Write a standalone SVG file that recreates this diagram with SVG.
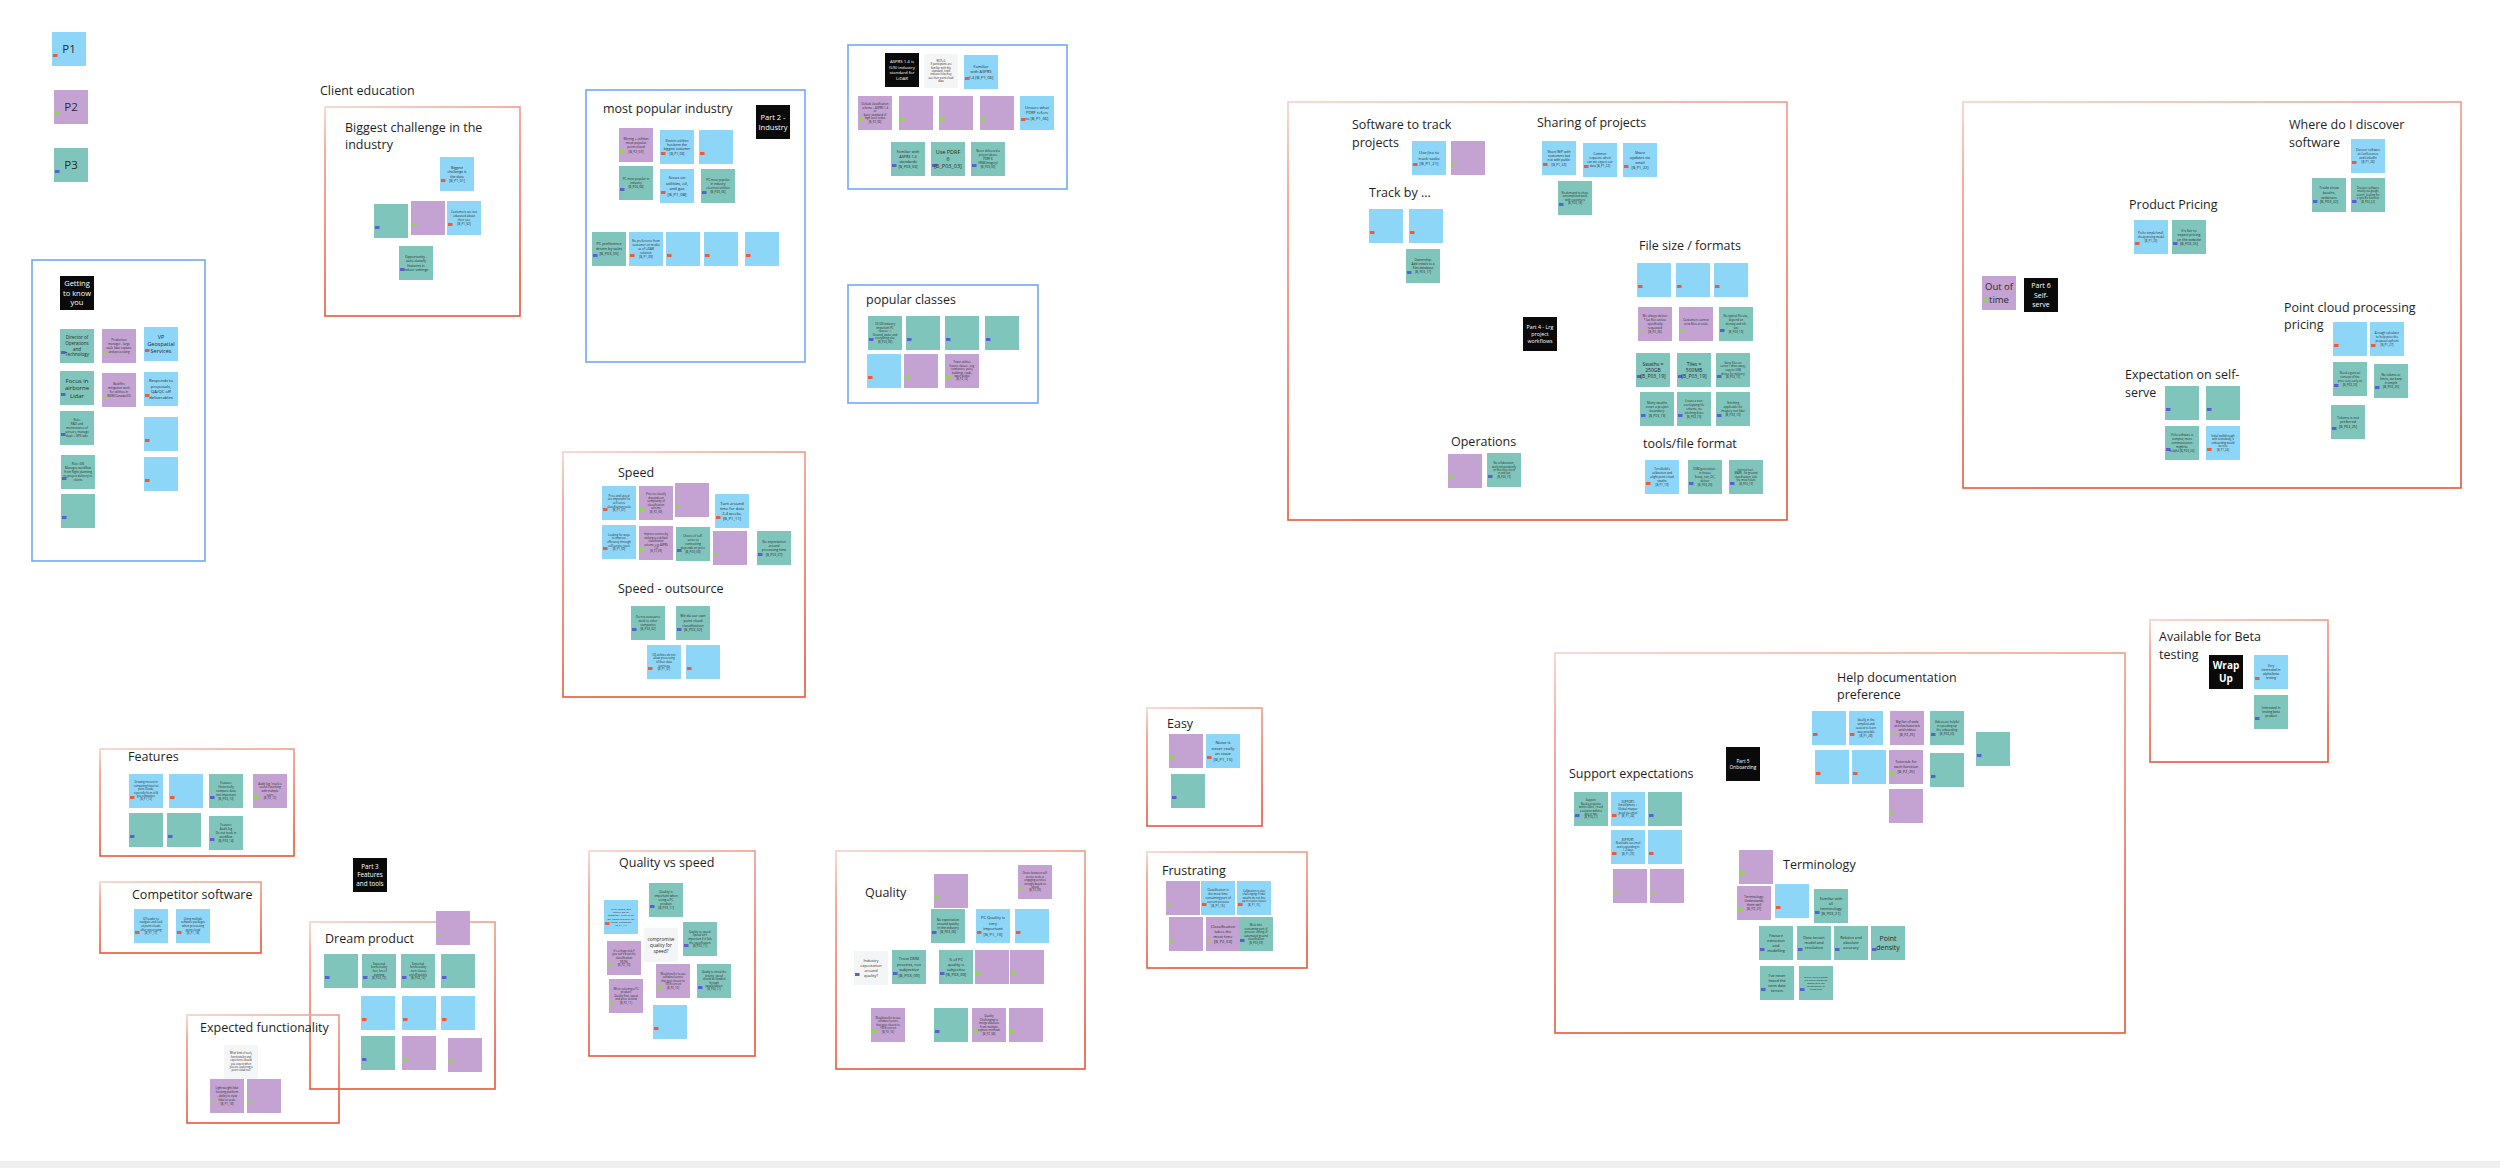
<svg xmlns="http://www.w3.org/2000/svg" xmlns:xlink="http://www.w3.org/1999/xlink" width="2500" height="1168" viewBox="0 0 2500 1168">
<style>
.h{font-family:"Open Sans","Noto Sans","Liberation Sans",sans-serif;font-size:12.5px;fill:#1e1e1e}
.s{font-family:"Open Sans","Noto Sans","Liberation Sans",sans-serif;fill:#2a2a2a;text-anchor:middle}
.wt{font-family:"Open Sans","Noto Sans","Liberation Sans",sans-serif;fill:#ffffff;text-anchor:middle}
.fb{fill:none;stroke:#72a9f2;stroke-width:1.6}
.fr{fill:none;stroke:url(#rg);stroke-width:1.6}
</style>
<defs>
<linearGradient id="rg" x1="0" y1="0" x2="0.2" y2="1">
<stop offset="0" stop-color="#f6d0c7"/>
<stop offset="0.2" stop-color="#ef9a86"/>
<stop offset="1" stop-color="#e8553a"/>
</linearGradient>
<g id="sb"><rect width="34" height="34" fill="#8dd6f7"/><rect x="1" y="22" width="4.5" height="3" fill="#ef5a3c"/></g>
<g id="sp"><rect width="34" height="34" fill="#c4a3d3"/><rect x="1" y="22" width="4.5" height="3" fill="#93d35a"/></g>
<g id="st"><rect width="34" height="34" fill="#80c5bb"/><rect x="1" y="22" width="4.5" height="3" fill="#5a5fd3"/></g>
<g id="sw"><rect width="34" height="34" fill="#f4f5f7"/></g>
<g id="swt"><rect width="34" height="34" fill="#f4f5f7"/><rect x="1" y="22" width="4.5" height="3" fill="#5a5fd3"/></g>
<g id="sk"><rect width="34" height="34" fill="#0a0a0a"/></g>
</defs>
<rect width="2500" height="1168" fill="#ffffff"/>
<rect x="0" y="1161" width="2500" height="7" fill="#efefef"/>

<g id="frames">
<rect class="fb" x="32" y="260" width="173" height="301"/>
<rect class="fr" x="325" y="107" width="195" height="209"/>
<rect class="fb" x="586" y="90" width="219" height="272"/>
<rect class="fb" x="848" y="45" width="219" height="144"/>
<rect class="fb" x="848" y="285" width="190" height="118"/>
<rect class="fr" x="1288" y="102" width="499" height="418"/>
<rect class="fr" x="1963" y="102" width="498" height="386"/>
<rect class="fr" x="563" y="452" width="242" height="245"/>
<rect class="fr" x="100" y="749" width="194" height="107"/>
<rect class="fr" x="100" y="882" width="161" height="71"/>
<rect class="fr" x="310" y="922" width="185" height="167"/>
<rect class="fr" x="187" y="1015" width="152" height="108"/>
<rect class="fr" x="589" y="851" width="166" height="205"/>
<rect class="fr" x="836" y="851" width="249" height="218"/>
<rect class="fr" x="1147" y="708" width="115" height="118"/>
<rect class="fr" x="1147" y="852" width="160" height="116"/>
<rect class="fr" x="1555" y="653" width="570" height="380"/>
<rect class="fr" x="2150" y="620" width="178" height="142"/>
</g>

<g id="headings">
<text class="h" x="320" y="95">Client education</text>
<text class="h" x="345" y="132">Biggest challenge in the</text>
<text class="h" x="345" y="149">industry</text>
<text class="h" x="603" y="113">most popular industry</text>
<text class="h" x="866" y="304">popular classes</text>
<text class="h" x="1352" y="129">Software to track</text>
<text class="h" x="1352" y="147">projects</text>
<text class="h" x="1369" y="197">Track by ...</text>
<text class="h" x="1537" y="127">Sharing of projects</text>
<text class="h" x="1639" y="250">File size / formats</text>
<text class="h" x="1451" y="446">Operations</text>
<text class="h" x="1643" y="448">tools/file format</text>
<text class="h" x="2289" y="129">Where do I discover</text>
<text class="h" x="2289" y="147">software</text>
<text class="h" x="2129" y="209">Product Pricing</text>
<text class="h" x="2284" y="312">Point cloud processing</text>
<text class="h" x="2284" y="329">pricing</text>
<text class="h" x="2125" y="379">Expectation on self-</text>
<text class="h" x="2125" y="397">serve</text>
<text class="h" x="618" y="477">Speed</text>
<text class="h" x="618" y="593">Speed - outsource</text>
<text class="h" x="128" y="761">Features</text>
<text class="h" x="132" y="899">Competitor software</text>
<text class="h" x="325" y="943">Dream product</text>
<text class="h" x="200" y="1032">Expected functionality</text>
<text class="h" x="619" y="867">Quality vs speed</text>
<text class="h" x="865" y="897">Quality</text>
<text class="h" x="1167" y="728">Easy</text>
<text class="h" x="1162" y="875">Frustrating</text>
<text class="h" x="1837" y="682">Help documentation</text>
<text class="h" x="1837" y="699">preference</text>
<text class="h" x="1569" y="778">Support expectations</text>
<text class="h" x="1783" y="869">Terminology</text>
<text class="h" x="2159" y="641">Available for Beta</text>
<text class="h" x="2159" y="659">testing</text>
</g>

<g id="legend">
<g id="n-p1"><use href="#sb" x="52" y="32"/><text class="s" x="69" y="53" font-size="11.5">P1</text></g>
<g id="n-p2"><use href="#sp" x="54" y="90"/><text class="s" x="71" y="111" font-size="11.5">P2</text></g>
<g id="n-p3"><use href="#st" x="54" y="148"/><text class="s" x="71" y="169" font-size="11.5">P3</text></g>
</g>

<g id="getting-to-know-you">
<g id="n-gk-label"><use href="#sk" x="60" y="276"/><text class="wt" x="77" y="286" font-size="7.5"><tspan x="77">Getting</tspan><tspan x="77" dy="9.5">to know</tspan><tspan x="77" dy="9.5">you</tspan></text></g>
<g id="n-gk1"><use href="#st" x="60" y="329"/><text class="s" x="77" y="338.9" font-size="4.5"><tspan x="77">Director of</tspan><tspan x="77" dy="5.8">Operations</tspan><tspan x="77" dy="5.8">and</tspan><tspan x="77" dy="5.8">Technology</tspan></text></g>
<g id="n-gk2"><use href="#st" x="60" y="371"/><text class="s" x="77" y="382.5" font-size="6"><tspan x="77">Focus in</tspan><tspan x="77" dy="7.6">airborne</tspan><tspan x="77" dy="7.6">Lidar</tspan></text></g>
<g id="n-gk3"><use href="#st" x="60" y="411"/><text class="s" x="77" y="421.2" font-size="3"><tspan x="77">Role:</tspan><tspan x="77" dy="3.9">R&amp;D and</tspan><tspan x="77" dy="3.9">maintenance of</tspan><tspan x="77" dy="3.9">sensors, manage</tspan><tspan x="77" dy="3.9">dept + GPS side</tspan></text></g>
<g id="n-gk4"><use href="#st" x="61" y="455"/><text class="s" x="78" y="465.2" font-size="3"><tspan x="78">Role: GIS</tspan><tspan x="78" dy="3.9">Manages workflow</tspan><tspan x="78" dy="3.9">from flight planning</tspan><tspan x="78" dy="3.9">to project delivery to</tspan><tspan x="78" dy="3.9">clients</tspan></text></g>
<g id="n-gk5"><use href="#st" x="61" y="494"/></g>
<g id="n-gk6"><use href="#sp" x="102" y="329"/><text class="s" x="119" y="341.2" font-size="3"><tspan x="119">Production</tspan><tspan x="119" dy="3.9">manager - large</tspan><tspan x="119" dy="3.9">scale lidar capture</tspan><tspan x="119" dy="3.9">and processing</tspan></text></g>
<g id="n-gk7"><use href="#sp" x="102" y="373"/><text class="s" x="119" y="385.2" font-size="3"><tspan x="119">Bushfire</tspan><tspan x="119" dy="3.9">mitigation work</tspan><tspan x="119" dy="3.9">for utilities in</tspan><tspan x="119" dy="3.9">NSW/Canada/US</tspan></text></g>
<g id="n-gk8"><use href="#sb" x="144" y="327"/><text class="s" x="161" y="338.9" font-size="5.5"><tspan x="161">VP</tspan><tspan x="161" dy="7">Geospatial</tspan><tspan x="161" dy="7">Services</tspan></text></g>
<g id="n-gk9"><use href="#sb" x="144" y="372"/><text class="s" x="161" y="382.4" font-size="4.2"><tspan x="161">Responds to</tspan><tspan x="161" dy="5.4">proposals,</tspan><tspan x="161" dy="5.4">QA/QC off</tspan><tspan x="161" dy="5.4">deliverables</tspan></text></g>
<g id="n-gk10"><use href="#sb" x="144" y="417"/></g>
<g id="n-gk11"><use href="#sb" x="144" y="457"/></g>
</g>

<g id="biggest-challenge">
<g id="n-bc1"><use href="#sb" x="440" y="157"/><text class="s" x="457" y="168.5" font-size="3.5"><tspan x="457">Biggest</tspan><tspan x="457" dy="4.5">challenge is</tspan><tspan x="457" dy="4.5">the data</tspan><tspan x="457" dy="4.5">[B_P1_01]</tspan></text></g>
<g id="n-bc2"><use href="#st" x="374" y="204"/></g>
<g id="n-bc3"><use href="#sp" x="411" y="201"/></g>
<g id="n-bc4"><use href="#sb" x="447" y="201"/><text class="s" x="464" y="213.2" font-size="3"><tspan x="464">Customers are not</tspan><tspan x="464" dy="3.9">educated about</tspan><tspan x="464" dy="3.9">their use</tspan><tspan x="464" dy="3.9">[B_P1_02]</tspan></text></g>
<g id="n-bc5"><use href="#st" x="399" y="246"/><text class="s" x="416" y="257.5" font-size="3.5"><tspan x="416">Opportunity -</tspan><tspan x="416" dy="4.5">auto-classify</tspan><tspan x="416" dy="4.5">features in</tspan><tspan x="416" dy="4.5">indoor settings</tspan></text></g>
</g>

<g id="popular-industry">
<g id="n-part2"><use href="#sk" x="756" y="105"/><text class="wt" x="773" y="119.6" font-size="7.5"><tspan x="773">Part 2 -</tspan><tspan x="773" dy="10">Industry</tspan></text></g>
<g id="n-pi1"><use href="#sp" x="619" y="128"/><text class="s" x="636" y="139.7" font-size="3.3"><tspan x="636">Mining + utilities</tspan><tspan x="636" dy="4.3">most popular</tspan><tspan x="636" dy="4.3">point cloud</tspan><tspan x="636" dy="4.3">[B_P2_07]</tspan></text></g>
<g id="n-pi2"><use href="#sb" x="660" y="130"/><text class="s" x="677" y="141.7" font-size="3.3"><tspan x="677">Electric utilities</tspan><tspan x="677" dy="4.3">has been the</tspan><tspan x="677" dy="4.3">biggest customer</tspan><tspan x="677" dy="4.3">[B_P1_08]</tspan></text></g>
<g id="n-pi3"><use href="#sb" x="699" y="130"/></g>
<g id="n-pi4"><use href="#st" x="619" y="166"/><text class="s" x="636" y="180.1" font-size="3"><tspan x="636">PC most popular in</tspan><tspan x="636" dy="3.9">industry</tspan><tspan x="636" dy="3.9">[B_P03_06]</tspan></text></g>
<g id="n-pi5"><use href="#sb" x="660" y="169"/><text class="s" x="677" y="179.4" font-size="4.2"><tspan x="677">focus on</tspan><tspan x="677" dy="5.4">utilities, oil,</tspan><tspan x="677" dy="5.4">and gas</tspan><tspan x="677" dy="5.4">[B_P1_08]</tspan></text></g>
<g id="n-pi6"><use href="#st" x="701" y="169"/><text class="s" x="718" y="181.2" font-size="3"><tspan x="718">PC most popular</tspan><tspan x="718" dy="3.9">in industry</tspan><tspan x="718" dy="3.9">electrical utilities</tspan><tspan x="718" dy="3.9">[B_P03_06]</tspan></text></g>
<g id="n-pi7"><use href="#st" x="592" y="232"/><text class="s" x="609" y="245.4" font-size="3.8"><tspan x="609">PC preference</tspan><tspan x="609" dy="4.9">driven by sales</tspan><tspan x="609" dy="4.9">[B_P03_05]</tspan></text></g>
<g id="n-pi8"><use href="#sb" x="629" y="232"/><text class="s" x="646" y="242.2" font-size="3"><tspan x="646">No preference from</tspan><tspan x="646" dy="3.9">customer on media</tspan><tspan x="646" dy="3.9">as of LiDAR</tspan><tspan x="646" dy="3.9">solution</tspan><tspan x="646" dy="3.9">[B_P1_09]</tspan></text></g>
<g id="n-pi9"><use href="#sb" x="666" y="232"/></g>
<g id="n-pi10"><use href="#sb" x="704" y="232"/></g>
<g id="n-pi11"><use href="#sb" x="745" y="232"/></g>
</g>

<g id="asprs">
<g id="n-asprs-label"><use href="#sk" x="885" y="53"/><text class="wt" x="902" y="62.8" font-size="4.3"><tspan x="902">ASPRS 1.4 is</tspan><tspan x="902" dy="5.8">(US) industry</tspan><tspan x="902" dy="5.8">standard for</tspan><tspan x="902" dy="5.8">LiDAR</tspan></text></g>
<g id="n-as1"><use href="#sw" x="924" y="54"/><text class="s" x="941" y="61.7" font-size="2.6"><tspan x="941">WCP+G</tspan><tspan x="941" dy="3.4">If participants are</tspan><tspan x="941" dy="3.4">familiar with this</tspan><tspan x="941" dy="3.4">standard, it will</tspan><tspan x="941" dy="3.4">indicate how they</tspan><tspan x="941" dy="3.4">use their point cloud</tspan><tspan x="941" dy="3.4">data</tspan></text></g>
<g id="n-as2"><use href="#sb" x="964" y="55"/><text class="s" x="981" y="68.2" font-size="4"><tspan x="981">Familiar</tspan><tspan x="981" dy="5.2">with ASPRS</tspan><tspan x="981" dy="5.2">1.4 [B_P1_06]</tspan></text></g>
<g id="n-as3"><use href="#sp" x="858" y="96"/><text class="s" x="875" y="105" font-size="2.8"><tspan x="875">Default classification</tspan><tspan x="875" dy="3.6">scheme = ASPRS 1.4</tspan><tspan x="875" dy="3.6">or</tspan><tspan x="875" dy="3.6">basic standard of</tspan><tspan x="875" dy="3.6">high level codes</tspan><tspan x="875" dy="3.6">[B_P2_06]</tspan></text></g>
<g id="n-as4"><use href="#sp" x="899" y="96"/></g>
<g id="n-as5"><use href="#sp" x="939" y="96"/></g>
<g id="n-as6"><use href="#sp" x="980" y="96"/></g>
<g id="n-as7"><use href="#sb" x="1020" y="96"/><text class="s" x="1037" y="109.2" font-size="4"><tspan x="1037">Unsure what</tspan><tspan x="1037" dy="5.2">PDRF refers</tspan><tspan x="1037" dy="5.2">to [B_P1_06]</tspan></text></g>
<g id="n-as8"><use href="#st" x="891" y="142"/><text class="s" x="908" y="153" font-size="3.8"><tspan x="908">Familiar with</tspan><tspan x="908" dy="4.9">ASPRS 1.4</tspan><tspan x="908" dy="4.9">standards</tspan><tspan x="908" dy="4.9">[B_P03_03]</tspan></text></g>
<g id="n-as9"><use href="#st" x="931" y="142"/><text class="s" x="948" y="153.9" font-size="5.5"><tspan x="948">Use PDRF</tspan><tspan x="948" dy="7">6</tspan><tspan x="948" dy="7">[B_P03_03]</tspan></text></g>
<g id="n-as10"><use href="#st" x="971" y="142"/><text class="s" x="988" y="152.4" font-size="2.9"><tspan x="988">Never delivered a</tspan><tspan x="988" dy="3.8">project above</tspan><tspan x="988" dy="3.8">PDRF 6</tspan><tspan x="988" dy="3.8">(RGB/imagery)</tspan><tspan x="988" dy="3.8">[B_P03_03]</tspan></text></g>
</g>

<g id="popular-classes">
<g id="n-pc1"><use href="#st" x="868" y="316"/><text class="s" x="885" y="325" font-size="2.8"><tspan x="885">US GIS industry</tspan><tspan x="885" dy="3.6">important PC</tspan><tspan x="885" dy="3.6">classes ++</tspan><tspan x="885" dy="3.6">Ground, water and</tspan><tspan x="885" dy="3.6">everything else</tspan><tspan x="885" dy="3.6">[B_P03_09]</tspan></text></g>
<g id="n-pc2"><use href="#st" x="906" y="316"/></g>
<g id="n-pc3"><use href="#st" x="945" y="316"/></g>
<g id="n-pc4"><use href="#st" x="985" y="316"/></g>
<g id="n-pc5"><use href="#sb" x="867" y="354"/></g>
<g id="n-pc6"><use href="#sp" x="904" y="354"/></g>
<g id="n-pc7"><use href="#sp" x="945" y="354"/><text class="s" x="962" y="363.4" font-size="2.6"><tspan x="962">Power utilities</tspan><tspan x="962" dy="3.4">feature classes - veg,</tspan><tspan x="962" dy="3.4">conductors, poles,</tspan><tspan x="962" dy="3.4">buildings, roads,</tspan><tspan x="962" dy="3.4">water bodies</tspan><tspan x="962" dy="3.4">[B_P2_10]</tspan></text></g>
</g>

<g id="part4">
<g id="n-part4"><use href="#sk" x="1523" y="317"/><text class="wt" x="1540" y="328.9" font-size="5.3"><tspan x="1540">Part 4 - Lrg</tspan><tspan x="1540" dy="7">project</tspan><tspan x="1540" dy="7">workflows</tspan></text></g>
<g id="n-p4a"><use href="#sb" x="1412" y="141"/><text class="s" x="1429" y="154.1" font-size="4.2"><tspan x="1429">Use Jira to</tspan><tspan x="1429" dy="5.4">track tasks</tspan><tspan x="1429" dy="5.4">[B_P1_21]</tspan></text></g>
<g id="n-p4b"><use href="#sp" x="1451" y="141"/></g>
<g id="n-p4c"><use href="#sb" x="1369" y="209"/></g>
<g id="n-p4d"><use href="#sb" x="1409" y="209"/></g>
<g id="n-p4e"><use href="#st" x="1406" y="249"/><text class="s" x="1423" y="260.8" font-size="3.2"><tspan x="1423">Ownership:</tspan><tspan x="1423" dy="4.2">Add initials to a</tspan><tspan x="1423" dy="4.2">files database</tspan><tspan x="1423" dy="4.2">[B_P03_17]</tspan></text></g>
<g id="n-p4f"><use href="#sb" x="1542" y="141"/><text class="s" x="1559" y="152.7" font-size="3.3"><tspan x="1559">Share WiP with</tspan><tspan x="1559" dy="4.3">customers but</tspan><tspan x="1559" dy="4.3">not with public</tspan><tspan x="1559" dy="4.3">[B_P1_22]</tspan></text></g>
<g id="n-p4g"><use href="#sb" x="1583" y="143"/><text class="s" x="1600" y="155.2" font-size="3"><tspan x="1600">Common</tspan><tspan x="1600" dy="3.9">requests: when</tspan><tspan x="1600" dy="3.9">can we expect our</tspan><tspan x="1600" dy="3.9">data [B_P1_22]</tspan></text></g>
<g id="n-p4h"><use href="#sb" x="1623" y="143"/><text class="s" x="1640" y="153.9" font-size="3.8"><tspan x="1640">Share</tspan><tspan x="1640" dy="4.9">updates via</tspan><tspan x="1640" dy="4.9">email</tspan><tspan x="1640" dy="4.9">[B_P1_22]</tspan></text></g>
<g id="n-p4i"><use href="#st" x="1558" y="181"/><text class="s" x="1575" y="193.6" font-size="2.8"><tspan x="1575">No demand to share</tspan><tspan x="1575" dy="3.6">uncompleted work</tspan><tspan x="1575" dy="3.6">with customers</tspan><tspan x="1575" dy="3.6">[B_P03_18]</tspan></text></g>
<g id="n-p4j"><use href="#sb" x="1637" y="263"/></g>
<g id="n-p4k"><use href="#sb" x="1676" y="263"/></g>
<g id="n-p4l"><use href="#sb" x="1714" y="263"/></g>
<g id="n-p4m"><use href="#sp" x="1638" y="307"/><text class="s" x="1655" y="317.2" font-size="3"><tspan x="1655">We always deliver</tspan><tspan x="1655" dy="3.9">*.las files unless</tspan><tspan x="1655" dy="3.9">specifically</tspan><tspan x="1655" dy="3.9">requested</tspan><tspan x="1655" dy="3.9">[B_P2_26]</tspan></text></g>
<g id="n-p4n"><use href="#sp" x="1679" y="307"/><text class="s" x="1696" y="321" font-size="3"><tspan x="1696">Customers cannot</tspan><tspan x="1696" dy="3.9">view files at scale</tspan></text></g>
<g id="n-p4o"><use href="#st" x="1719" y="307"/><text class="s" x="1736" y="317.4" font-size="2.9"><tspan x="1736">No typical file size,</tspan><tspan x="1736" dy="3.8">depend on</tspan><tspan x="1736" dy="3.8">density and tile</tspan><tspan x="1736" dy="3.8">size</tspan><tspan x="1736" dy="3.8">[B_P03_19]</tspan></text></g>
<g id="n-p4p"><use href="#st" x="1636" y="353"/><text class="s" x="1653" y="365.5" font-size="5"><tspan x="1653">Swaths =</tspan><tspan x="1653" dy="6.3">250GB</tspan><tspan x="1653" dy="6.3">[B_P03_19]</tspan></text></g>
<g id="n-p4q"><use href="#st" x="1677" y="353"/><text class="s" x="1694" y="365.5" font-size="5"><tspan x="1694">Tiles =</tspan><tspan x="1694" dy="6.3">500MB</tspan><tspan x="1694" dy="6.3">[B_P03_19]</tspan></text></g>
<g id="n-p4r"><use href="#st" x="1716" y="353"/><text class="s" x="1733" y="363.8" font-size="2.8"><tspan x="1733">Store files on</tspan><tspan x="1733" dy="3.6">server / drive away,</tspan><tspan x="1733" dy="3.6">copy to USB</tspan><tspan x="1733" dy="3.6">drives for delivery</tspan><tspan x="1733" dy="3.6">[B_P03_19]</tspan></text></g>
<g id="n-p4s"><use href="#st" x="1640" y="392"/><text class="s" x="1657" y="403.7" font-size="3.3"><tspan x="1657">Many swaths</tspan><tspan x="1657" dy="4.3">cover a project</tspan><tspan x="1657" dy="4.3">boundary</tspan><tspan x="1657" dy="4.3">[B_P03_19]</tspan></text></g>
<g id="n-p4t"><use href="#st" x="1677" y="392"/><text class="s" x="1694" y="402.4" font-size="2.9"><tspan x="1694">Create a non-</tspan><tspan x="1694" dy="3.8">overlapping tile</tspan><tspan x="1694" dy="3.8">scheme, no</tspan><tspan x="1694" dy="3.8">stitching done</tspan><tspan x="1694" dy="3.8">[B_P03_19]</tspan></text></g>
<g id="n-p4u"><use href="#st" x="1716" y="392"/><text class="s" x="1733" y="404.2" font-size="3"><tspan x="1733">Stitching</tspan><tspan x="1733" dy="3.9">applicable for</tspan><tspan x="1733" dy="3.9">imagery not lidar</tspan><tspan x="1733" dy="3.9">[B_P03_19]</tspan></text></g>
<g id="n-p4v"><use href="#sp" x="1448" y="454"/></g>
<g id="n-p4w"><use href="#st" x="1487" y="453"/><text class="s" x="1504" y="464.1" font-size="2.6"><tspan x="1504">No collaboration,</tspan><tspan x="1504" dy="3.4">work independently</tspan><tspan x="1504" dy="3.4">on files they check</tspan><tspan x="1504" dy="3.4">in and out</tspan><tspan x="1504" dy="3.4">[B_P03_19]</tspan></text></g>
<g id="n-p4x"><use href="#sb" x="1645" y="460"/><text class="s" x="1662" y="470.4" font-size="2.9"><tspan x="1662">TerraSolid's</tspan><tspan x="1662" dy="3.8">calibration and</tspan><tspan x="1662" dy="3.8">alight point cloud</tspan><tspan x="1662" dy="3.8">swaths</tspan><tspan x="1662" dy="3.8">[B_P1_19]</tspan></text></g>
<g id="n-p4y"><use href="#st" x="1688" y="460"/><text class="s" x="1705" y="470.4" font-size="2.9"><tspan x="1705">DEM generation -</tspan><tspan x="1705" dy="3.8">in-house</tspan><tspan x="1705" dy="3.8">Setup, run, QC,</tspan><tspan x="1705" dy="3.8">deliver</tspan><tspan x="1705" dy="3.8">[B_P03_20]</tspan></text></g>
<g id="n-p4z"><use href="#st" x="1729" y="460"/><text class="s" x="1746" y="470.9" font-size="2.7"><tspan x="1746">Internal tool -</tspan><tspan x="1746" dy="3.5">MARS - for ground</tspan><tspan x="1746" dy="3.5">classification, take</tspan><tspan x="1746" dy="3.5">the most hours</tspan><tspan x="1746" dy="3.5">[B_P03_19]</tspan></text></g>
</g>

<g id="part6">
<g id="n-outoftime"><use href="#sp" x="1982" y="276"/><text class="s" x="1999" y="290" font-size="9.5"><tspan x="1999">Out of</tspan><tspan x="1999" dy="12.5">time</tspan></text></g>
<g id="n-part6"><use href="#sk" x="2024" y="278"/><text class="wt" x="2041" y="288" font-size="7"><tspan x="2041">Part 6</tspan><tspan x="2041" dy="9.5">Self-</tspan><tspan x="2041" dy="9.5">serve</tspan></text></g>
<g id="n-p6a"><use href="#sb" x="2351" y="139"/><text class="s" x="2368" y="151.3" font-size="2.9"><tspan x="2368">Discover software</tspan><tspan x="2368" dy="3.8">at Conferences</tspan><tspan x="2368" dy="3.8">and LinkedIn</tspan><tspan x="2368" dy="3.8">[B_P1_26]</tspan></text></g>
<g id="n-p6b"><use href="#st" x="2312" y="178"/><text class="s" x="2329" y="189.3" font-size="3.6"><tspan x="2329">Trade show</tspan><tspan x="2329" dy="4.7">booths,</tspan><tspan x="2329" dy="4.7">webinars</tspan><tspan x="2329" dy="4.7">[B_P03_22]</tspan></text></g>
<g id="n-p6c"><use href="#st" x="2351" y="178"/><text class="s" x="2368" y="188.9" font-size="2.7"><tspan x="2368">Discover software</tspan><tspan x="2368" dy="3.5">mostly via google</tspan><tspan x="2368" dy="3.5">search, looking for</tspan><tspan x="2368" dy="3.5">a specific function</tspan><tspan x="2368" dy="3.5">[B_P03_22]</tspan></text></g>
<g id="n-p6d"><use href="#sb" x="2134" y="220"/><text class="s" x="2151" y="234.4" font-size="2.8"><tspan x="2151">Prefer simple/small,</tspan><tspan x="2151" dy="3.6">cheap pricing model</tspan><tspan x="2151" dy="3.6">[B_P1_25]</tspan></text></g>
<g id="n-p6e"><use href="#st" x="2172" y="220"/><text class="s" x="2189" y="231.5" font-size="3.5"><tspan x="2189">It's fair to</tspan><tspan x="2189" dy="4.5">expect pricing</tspan><tspan x="2189" dy="4.5">on the website</tspan><tspan x="2189" dy="4.5">[B_P03_25]</tspan></text></g>
<g id="n-p6f"><use href="#sb" x="2333" y="322"/></g>
<g id="n-p6g"><use href="#sb" x="2370" y="322"/><text class="s" x="2387" y="334.3" font-size="2.9"><tspan x="2387">A rough calculator</tspan><tspan x="2387" dy="3.8">to help price the</tspan><tspan x="2387" dy="3.8">proposal upfront</tspan><tspan x="2387" dy="3.8">[B_P1_27]</tspan></text></g>
<g id="n-p6h"><use href="#st" x="2333" y="362"/><text class="s" x="2350" y="374.3" font-size="2.9"><tspan x="2350">Need a general</tspan><tspan x="2350" dy="3.8">concept of the</tspan><tspan x="2350" dy="3.8">price very early on</tspan><tspan x="2350" dy="3.8">[B_P03_25]</tspan></text></g>
<g id="n-p6i"><use href="#st" x="2374" y="364"/><text class="s" x="2391" y="375.8" font-size="3.2"><tspan x="2391">No tokens or</tspan><tspan x="2391" dy="4.2">limits, we keep</tspan><tspan x="2391" dy="4.2">it simple</tspan><tspan x="2391" dy="4.2">[B_P03_25]</tspan></text></g>
<g id="n-p6j"><use href="#st" x="2331" y="405"/><text class="s" x="2348" y="418.6" font-size="3.6"><tspan x="2348">Tokens is not</tspan><tspan x="2348" dy="4.7">preferred</tspan><tspan x="2348" dy="4.7">[B_P03_25]</tspan></text></g>
<g id="n-p6k"><use href="#st" x="2165" y="386"/></g>
<g id="n-p6l"><use href="#st" x="2206" y="386"/></g>
<g id="n-p6m"><use href="#st" x="2165" y="426"/><text class="s" x="2182" y="436.4" font-size="2.9"><tspan x="2182">If the software is</tspan><tspan x="2182" dy="3.8">complex, more</tspan><tspan x="2182" dy="3.8">communication</tspan><tspan x="2182" dy="3.8">might be</tspan><tspan x="2182" dy="3.8">helpful [B_P03_24]</tspan></text></g>
<g id="n-p6n"><use href="#sb" x="2206" y="426"/><text class="s" x="2223" y="436.9" font-size="2.7"><tspan x="2223">Initial walkthrough</tspan><tspan x="2223" dy="3.5">with somebody, a</tspan><tspan x="2223" dy="3.5">onboarding would</tspan><tspan x="2223" dy="3.5">be nice</tspan><tspan x="2223" dy="3.5">[B_P1_24]</tspan></text></g>
</g>

<g id="speed">
<g id="n-sp1"><use href="#sb" x="602" y="486"/><text class="s" x="619" y="496.8" font-size="2.8"><tspan x="619">Price and speed</tspan><tspan x="619" dy="3.6">are important for</tspan><tspan x="619" dy="3.6">self-serve</tspan><tspan x="619" dy="3.6">classification tools</tspan><tspan x="619" dy="3.6">[B_P1_07]</tspan></text></g>
<g id="n-sp2"><use href="#sp" x="639" y="486"/><text class="s" x="656" y="495" font-size="2.8"><tspan x="656">Price to classify</tspan><tspan x="656" dy="3.6">depends on</tspan><tspan x="656" dy="3.6">complexity of</tspan><tspan x="656" dy="3.6">classification</tspan><tspan x="656" dy="3.6">scheme</tspan><tspan x="656" dy="3.6">[B_P2_09]</tspan></text></g>
<g id="n-sp3"><use href="#sp" x="675" y="483"/></g>
<g id="n-sp4"><use href="#sb" x="715" y="494"/><text class="s" x="732" y="504.6" font-size="4"><tspan x="732">Turn around</tspan><tspan x="732" dy="5.2">time for data</tspan><tspan x="732" dy="5.2">2-4 weeks.</tspan><tspan x="732" dy="5.2">[B_P1_11]</tspan></text></g>
<g id="n-sp5"><use href="#sb" x="602" y="525"/><text class="s" x="619" y="535.8" font-size="2.8"><tspan x="619">Looking for ways</tspan><tspan x="619" dy="3.6">to improve</tspan><tspan x="619" dy="3.6">efficiency through</tspan><tspan x="619" dy="3.6">self-service tools</tspan><tspan x="619" dy="3.6">[B_P1_09]</tspan></text></g>
<g id="n-sp6"><use href="#sp" x="639" y="526"/><text class="s" x="656" y="535.4" font-size="2.6"><tspan x="656">Improve services by</tspan><tspan x="656" dy="3.4">sticking to a default</tspan><tspan x="656" dy="3.4">classification</tspan><tspan x="656" dy="3.4">scheme, e.g. ASPRS</tspan><tspan x="656" dy="3.4">1.4</tspan><tspan x="656" dy="3.4">[B_P2_09]</tspan></text></g>
<g id="n-sp7"><use href="#st" x="676" y="527"/><text class="s" x="693" y="537.2" font-size="3"><tspan x="693">Choice of self-</tspan><tspan x="693" dy="3.9">serve vs</tspan><tspan x="693" dy="3.9">contracting</tspan><tspan x="693" dy="3.9">depends on price</tspan><tspan x="693" dy="3.9">[B_P03_03]</tspan></text></g>
<g id="n-sp8"><use href="#sp" x="713" y="531"/></g>
<g id="n-sp9"><use href="#st" x="757" y="531"/><text class="s" x="774" y="542.7" font-size="3.3"><tspan x="774">No expectation</tspan><tspan x="774" dy="4.3">around</tspan><tspan x="774" dy="4.3">processing time</tspan><tspan x="774" dy="4.3">[B_P03_07]</tspan></text></g>
<g id="n-sp10"><use href="#st" x="631" y="606"/><text class="s" x="648" y="618.2" font-size="3"><tspan x="648">Do not outsource</tspan><tspan x="648" dy="3.9">work to other</tspan><tspan x="648" dy="3.9">companies</tspan><tspan x="648" dy="3.9">[B_P03_02]</tspan></text></g>
<g id="n-sp11"><use href="#st" x="676" y="606"/><text class="s" x="693" y="617.3" font-size="3.6"><tspan x="693">We do our own</tspan><tspan x="693" dy="4.7">point cloud</tspan><tspan x="693" dy="4.7">classification</tspan><tspan x="693" dy="4.7">[B_P03_02]</tspan></text></g>
<g id="n-sp12"><use href="#sb" x="647" y="645"/><text class="s" x="664" y="655.8" font-size="2.8"><tspan x="664">US utilities do not</tspan><tspan x="664" dy="3.6">allow processing</tspan><tspan x="664" dy="3.6">of their data</tspan><tspan x="664" dy="3.6">overseas</tspan><tspan x="664" dy="3.6">[B_P1_07]</tspan></text></g>
<g id="n-sp13"><use href="#sb" x="686" y="645"/></g>
</g>

<g id="features">
<g id="n-f1"><use href="#sb" x="129" y="774"/><text class="s" x="146" y="783.4" font-size="2.6"><tspan x="146">Growing interest in</tspan><tspan x="146" dy="3.4">comparing historical</tspan><tspan x="146" dy="3.4">point clouds,</tspan><tspan x="146" dy="3.4">especially from oil &amp;</tspan><tspan x="146" dy="3.4">gas companies</tspan><tspan x="146" dy="3.4">[B_P1_12]</tspan></text></g>
<g id="n-f2"><use href="#sb" x="169" y="774"/></g>
<g id="n-f3"><use href="#st" x="209" y="774"/><text class="s" x="226" y="784.2" font-size="3"><tspan x="226">Feature:</tspan><tspan x="226" dy="3.9">Historically</tspan><tspan x="226" dy="3.9">compare data</tspan><tspan x="226" dy="3.9">not important</tspan><tspan x="226" dy="3.9">[B_P03_13]</tspan></text></g>
<g id="n-f4"><use href="#sp" x="253" y="774"/><text class="s" x="270" y="784.8" font-size="2.8"><tspan x="270">Audit log / track is</tspan><tspan x="270" dy="3.6">useful if working</tspan><tspan x="270" dy="3.6">with multiple</tspan><tspan x="270" dy="3.6">users</tspan><tspan x="270" dy="3.6">[B_P2_12]</tspan></text></g>
<g id="n-f5"><use href="#st" x="129" y="813"/></g>
<g id="n-f6"><use href="#st" x="167" y="813"/></g>
<g id="n-f7"><use href="#st" x="209" y="816"/><text class="s" x="226" y="826.2" font-size="3"><tspan x="226">Feature:</tspan><tspan x="226" dy="3.9">Audit log</tspan><tspan x="226" dy="3.9">Do not track in</tspan><tspan x="226" dy="3.9">workflow</tspan><tspan x="226" dy="3.9">[B_P03_14]</tspan></text></g>
<g id="n-c1"><use href="#sb" x="134" y="909"/><text class="s" x="151" y="919.8" font-size="2.8"><tspan x="151">QTreader to</tspan><tspan x="151" dy="3.6">navigate and look</tspan><tspan x="151" dy="3.6">at point clouds</tspan><tspan x="151" dy="3.6">after processing</tspan><tspan x="151" dy="3.6">[B_P1_17]</tspan></text></g>
<g id="n-c2"><use href="#sb" x="176" y="909"/><text class="s" x="193" y="919.8" font-size="2.8"><tspan x="193">Using multiple</tspan><tspan x="193" dy="3.6">software packages</tspan><tspan x="193" dy="3.6">when processing</tspan><tspan x="193" dy="3.6">point cloud</tspan><tspan x="193" dy="3.6">[B_P1_18]</tspan></text></g>
<g id="n-part3"><use href="#sk" x="353" y="858"/><text class="wt" x="370" y="868.7" font-size="6.3"><tspan x="370">Part 3</tspan><tspan x="370" dy="8.5">Features</tspan><tspan x="370" dy="8.5">and tools</tspan></text></g>
</g>

<g id="dream-product">
<g id="n-d1"><use href="#sp" x="436" y="911"/></g>
<g id="n-d2"><use href="#st" x="324" y="954"/></g>
<g id="n-d3"><use href="#st" x="362" y="954"/><text class="s" x="379" y="964.8" font-size="2.8"><tspan x="379">Expected</tspan><tspan x="379" dy="3.6">functionality</tspan><tspan x="379" dy="3.6">- fast, lots of</tspan><tspan x="379" dy="3.6">panning</tspan><tspan x="379" dy="3.6">[B_P03_12]</tspan></text></g>
<g id="n-d4"><use href="#st" x="401" y="954"/><text class="s" x="418" y="964.8" font-size="2.8"><tspan x="418">Expected</tspan><tspan x="418" dy="3.6">functionality</tspan><tspan x="418" dy="3.6">- turn classes</tspan><tspan x="418" dy="3.6">on/off quickly</tspan><tspan x="418" dy="3.6">[B_P03_12]</tspan></text></g>
<g id="n-d5"><use href="#st" x="441" y="954"/></g>
<g id="n-d6"><use href="#sb" x="361" y="996"/></g>
<g id="n-d7"><use href="#sb" x="402" y="996"/></g>
<g id="n-d8"><use href="#sb" x="441" y="996"/></g>
<g id="n-d9"><use href="#st" x="361" y="1036"/></g>
<g id="n-d10"><use href="#sp" x="402" y="1036"/></g>
<g id="n-d11"><use href="#sp" x="448" y="1038"/></g>
<g id="n-e1"><use href="#sw" x="224" y="1045"/><text class="s" x="241" y="1054.4" font-size="2.6"><tspan x="241">What kind of tools,</tspan><tspan x="241" dy="3.4">functionality and</tspan><tspan x="241" dy="3.4">experience would</tspan><tspan x="241" dy="3.4">you expect when</tspan><tspan x="241" dy="3.4">you are exploring a</tspan><tspan x="241" dy="3.4">point cloud tool</tspan></text></g>
<g id="n-e2"><use href="#sp" x="210" y="1079"/><text class="s" x="227" y="1089.4" font-size="2.9"><tspan x="227">Light weight lidar</tspan><tspan x="227" dy="3.8">hosting platform</tspan><tspan x="227" dy="3.8">- ability to view</tspan><tspan x="227" dy="3.8">lidar at scale</tspan><tspan x="227" dy="3.8">[B_P1_18]</tspan></text></g>
<g id="n-e3"><use href="#sp" x="247" y="1079"/></g>
</g>

<g id="quality-vs-speed">
<g id="n-q1"><use href="#st" x="649" y="883"/><text class="s" x="666" y="893" font-size="3.1"><tspan x="666">Quality is</tspan><tspan x="666" dy="4">important when</tspan><tspan x="666" dy="4">using a PC</tspan><tspan x="666" dy="4">product</tspan><tspan x="666" dy="4">[B_P03_11]</tspan></text></g>
<g id="n-q2"><use href="#sb" x="604" y="900"/><text class="s" x="621" y="909.9" font-size="2.5"><tspan x="621">Price, speed, and</tspan><tspan x="621" dy="3.2">quality are all</tspan><tspan x="621" dy="3.2">important. Price to get</tspan><tspan x="621" dy="3.2">job, speed &amp; quality for</tspan><tspan x="621" dy="3.2">repeat customers</tspan><tspan x="621" dy="3.2">[B_P1_14]</tspan></text></g>
<g id="n-q3"><use href="#sw" x="644" y="928"/><text class="s" x="661" y="940.6" font-size="4.6"><tspan x="661">compromise</tspan><tspan x="661" dy="6">quality for</tspan><tspan x="661" dy="6">speed?</tspan></text></g>
<g id="n-q4"><use href="#st" x="683" y="922"/><text class="s" x="700" y="932.8" font-size="2.8"><tspan x="700">Quality vs speed:</tspan><tspan x="700" dy="3.6">Speed isn't</tspan><tspan x="700" dy="3.6">important if it fails</tspan><tspan x="700" dy="3.6">the specification</tspan><tspan x="700" dy="3.6">[B_P03_11]</tspan></text></g>
<g id="n-q5"><use href="#sp" x="607" y="941"/><text class="s" x="624" y="951.8" font-size="2.8"><tspan x="624">It's a huge risk if</tspan><tspan x="624" dy="3.6">you can't trust the</tspan><tspan x="624" dy="3.6">classification</tspan><tspan x="624" dy="3.6">99.9%</tspan><tspan x="624" dy="3.6">[B_P2_10]</tspan></text></g>
<g id="n-q6"><use href="#sp" x="656" y="964"/><text class="s" x="673" y="974.9" font-size="2.7"><tspan x="673">Would prefer to use</tspan><tspan x="673" dy="3.5">software/service</tspan><tspan x="673" dy="3.5">that gets closest to</tspan><tspan x="673" dy="3.5">100% correct</tspan><tspan x="673" dy="3.5">[B_P2_10]</tspan></text></g>
<g id="n-q7"><use href="#st" x="697" y="964"/><text class="s" x="714" y="973.4" font-size="2.6"><tspan x="714">Quality is critical the</tspan><tspan x="714" dy="3.4">priority, speed</tspan><tspan x="714" dy="3.4">should be handled</tspan><tspan x="714" dy="3.4">through</tspan><tspan x="714" dy="3.4">parallelisation</tspan><tspan x="714" dy="3.4">[B_P03_11]</tspan></text></g>
<g id="n-q8"><use href="#sp" x="609" y="979"/><text class="s" x="626" y="989.9" font-size="2.7"><tspan x="626">When selecting a PC</tspan><tspan x="626" dy="3.5">product:</tspan><tspan x="626" dy="3.5">Quality first, speed</tspan><tspan x="626" dy="3.5">and price second</tspan><tspan x="626" dy="3.5">[B_P2_11]</tspan></text></g>
<g id="n-q9"><use href="#sb" x="653" y="1005"/></g>
</g>

<g id="quality">
<g id="n-ql1"><use href="#sp" x="934" y="874"/></g>
<g id="n-ql2"><use href="#sp" x="1018" y="865"/><text class="s" x="1035" y="874.4" font-size="2.6"><tspan x="1035">Choice between self-</tspan><tspan x="1035" dy="3.4">service tools or</tspan><tspan x="1035" dy="3.4">engaging services</tspan><tspan x="1035" dy="3.4">strongly based on</tspan><tspan x="1035" dy="3.4">speed</tspan><tspan x="1035" dy="3.4">[B_P2_09]</tspan></text></g>
<g id="n-ql3"><use href="#st" x="931" y="909"/><text class="s" x="948" y="920.8" font-size="3.2"><tspan x="948">No expectation</tspan><tspan x="948" dy="4.2">around quality</tspan><tspan x="948" dy="4.2">in the industry</tspan><tspan x="948" dy="4.2">[B_P03_06]</tspan></text></g>
<g id="n-ql4"><use href="#sb" x="976" y="909"/><text class="s" x="993" y="919.3" font-size="4.2"><tspan x="993">PC Quality is</tspan><tspan x="993" dy="5.5">very</tspan><tspan x="993" dy="5.5">important</tspan><tspan x="993" dy="5.5">[B_P1_10]</tspan></text></g>
<g id="n-ql5"><use href="#sb" x="1015" y="909"/></g>
<g id="n-ql6"><use href="#swt" x="854" y="951"/><text class="s" x="871" y="961.8" font-size="3.9"><tspan x="871">Industry</tspan><tspan x="871" dy="5.1">expectation</tspan><tspan x="871" dy="5.1">around</tspan><tspan x="871" dy="5.1">quality?</tspan></text></g>
<g id="n-ql7"><use href="#st" x="892" y="950"/><text class="s" x="909" y="960.3" font-size="4.2"><tspan x="909">Trust DEM</tspan><tspan x="909" dy="5.5">process, not</tspan><tspan x="909" dy="5.5">subjective</tspan><tspan x="909" dy="5.5">[B_P03_09]</tspan></text></g>
<g id="n-ql8"><use href="#st" x="939" y="950"/><text class="s" x="956" y="960.6" font-size="4"><tspan x="956">% of PC</tspan><tspan x="956" dy="5.2">quality is</tspan><tspan x="956" dy="5.2">subjective</tspan><tspan x="956" dy="5.2">[B_P03_09]</tspan></text></g>
<g id="n-ql9"><use href="#sp" x="975" y="950"/></g>
<g id="n-ql10"><use href="#sp" x="1010" y="950"/></g>
<g id="n-ql11"><use href="#sp" x="871" y="1008"/><text class="s" x="888" y="1018.9" font-size="2.7"><tspan x="888">Would prefer to use</tspan><tspan x="888" dy="3.5">software/service</tspan><tspan x="888" dy="3.5">that gets closest to</tspan><tspan x="888" dy="3.5">100% correct</tspan><tspan x="888" dy="3.5">[B_P2_10]</tspan></text></g>
<g id="n-ql12"><use href="#st" x="934" y="1008"/></g>
<g id="n-ql13"><use href="#sp" x="972" y="1008"/><text class="s" x="989" y="1017" font-size="2.8"><tspan x="989">Quality</tspan><tspan x="989" dy="3.6">Challenging to</tspan><tspan x="989" dy="3.6">merge datasets</tspan><tspan x="989" dy="3.6">from multiple</tspan><tspan x="989" dy="3.6">capture methods</tspan><tspan x="989" dy="3.6">[B_P2_08]</tspan></text></g>
<g id="n-ql14"><use href="#sp" x="1009" y="1008"/></g>
</g>

<g id="easy-frustrating">
<g id="n-ez1"><use href="#sp" x="1169" y="734"/></g>
<g id="n-ez2"><use href="#sb" x="1206" y="734"/><text class="s" x="1223" y="744.3" font-size="4.2"><tspan x="1223">Noise is</tspan><tspan x="1223" dy="5.5">never really</tspan><tspan x="1223" dy="5.5">an issue</tspan><tspan x="1223" dy="5.5">[B_P1_15]</tspan></text></g>
<g id="n-ez3"><use href="#st" x="1171" y="774"/></g>
<g id="n-fr1"><use href="#sp" x="1166" y="881"/></g>
<g id="n-fr2"><use href="#sb" x="1201" y="881"/><text class="s" x="1218" y="891.2" font-size="3"><tspan x="1218">Classification is</tspan><tspan x="1218" dy="3.9">the most time</tspan><tspan x="1218" dy="3.9">consuming part of</tspan><tspan x="1218" dy="3.9">current process</tspan><tspan x="1218" dy="3.9">[B_P1_15]</tspan></text></g>
<g id="n-fr3"><use href="#sb" x="1237" y="881"/><text class="s" x="1254" y="891.9" font-size="2.7"><tspan x="1254">Calibration is also</tspan><tspan x="1254" dy="3.5">challenging if lidar</tspan><tspan x="1254" dy="3.5">swaths do not line</tspan><tspan x="1254" dy="3.5">up it creates issues</tspan><tspan x="1254" dy="3.5">[B_P1_15]</tspan></text></g>
<g id="n-fr4"><use href="#sp" x="1169" y="917"/></g>
<g id="n-fr5"><use href="#sp" x="1206" y="917"/><text class="s" x="1223" y="927.6" font-size="4"><tspan x="1223">Classification</tspan><tspan x="1223" dy="5.2">takes the</tspan><tspan x="1223" dy="5.2">most time</tspan><tspan x="1223" dy="5.2">[B_P2_03]</tspan></text></g>
<g id="n-fr6"><use href="#st" x="1239" y="917"/><text class="s" x="1256" y="926.2" font-size="2.7"><tspan x="1256">Most time</tspan><tspan x="1256" dy="3.5">consuming part of</tspan><tspan x="1256" dy="3.5">process: editing of</tspan><tspan x="1256" dy="3.5">automated ground</tspan><tspan x="1256" dy="3.5">classification</tspan><tspan x="1256" dy="3.5">[B_P03_09]</tspan></text></g>
</g>

<g id="part5">
<g id="n-part5"><use href="#sk" x="1726" y="747"/><text class="wt" x="1743" y="762.5" font-size="4.8"><tspan x="1743">Part 5</tspan><tspan x="1743" dy="6.5">Onboarding</tspan></text></g>
<g id="n-h1"><use href="#sb" x="1812" y="711"/></g>
<g id="n-h2"><use href="#sb" x="1849" y="711"/><text class="s" x="1866" y="721.4" font-size="2.9"><tspan x="1866">Ideally in the</tspan><tspan x="1866" dy="3.8">simplest and</tspan><tspan x="1866" dy="3.8">easiest to learn</tspan><tspan x="1866" dy="3.8">way possible</tspan><tspan x="1866" dy="3.8">[B_P1_28]</tspan></text></g>
<g id="n-h3"><use href="#sp" x="1890" y="711"/><text class="s" x="1907" y="722.6" font-size="3.4"><tspan x="1907">Big fan of web</tspan><tspan x="1907" dy="4.4">articles/tutorials</tspan><tspan x="1907" dy="4.4">and videos</tspan><tspan x="1907" dy="4.4">[B_P2_25]</tspan></text></g>
<g id="n-h4"><use href="#st" x="1930" y="711"/><text class="s" x="1947" y="723.3" font-size="2.9"><tspan x="1947">Videos are helpful</tspan><tspan x="1947" dy="3.8">in speeding up</tspan><tspan x="1947" dy="3.8">the onboarding</tspan><tspan x="1947" dy="3.8">[B_P03_20]</tspan></text></g>
<g id="n-h5"><use href="#st" x="1976" y="732"/></g>
<g id="n-h6"><use href="#sb" x="1815" y="750"/></g>
<g id="n-h7"><use href="#sb" x="1852" y="750"/></g>
<g id="n-h8"><use href="#sp" x="1889" y="750"/><text class="s" x="1906" y="763.4" font-size="3.8"><tspan x="1906">Tutorials for</tspan><tspan x="1906" dy="4.9">each function</tspan><tspan x="1906" dy="4.9">[B_P2_25]</tspan></text></g>
<g id="n-h9"><use href="#st" x="1930" y="753"/></g>
<g id="n-h10"><use href="#sp" x="1889" y="789"/></g>
<g id="n-su1"><use href="#st" x="1574" y="792"/><text class="s" x="1591" y="801.4" font-size="2.6"><tspan x="1591">Support:</tspan><tspan x="1591" dy="3.4">Need a response</tspan><tspan x="1591" dy="3.4">within 24hrs, I need</tspan><tspan x="1591" dy="3.4">a solution within a</tspan><tspan x="1591" dy="3.4">day or two</tspan><tspan x="1591" dy="3.4">[B_P03_21]</tspan></text></g>
<g id="n-su2"><use href="#sb" x="1611" y="792"/><text class="s" x="1628" y="802.8" font-size="2.8"><tspan x="1628">SUPPORT:</tspan><tspan x="1628" dy="3.6">Email/phone +</tspan><tspan x="1628" dy="3.6">Global mapper</tspan><tspan x="1628" dy="3.6">good via email</tspan><tspan x="1628" dy="3.6">[B_P1_24]</tspan></text></g>
<g id="n-su3"><use href="#st" x="1648" y="792"/></g>
<g id="n-su4"><use href="#sb" x="1611" y="830"/><text class="s" x="1628" y="840.9" font-size="2.7"><tspan x="1628">SUPPORT:</tspan><tspan x="1628" dy="3.5">Reachable via email</tspan><tspan x="1628" dy="3.5">and responding in</tspan><tspan x="1628" dy="3.5">1-2 days</tspan><tspan x="1628" dy="3.5">[B_P1_29]</tspan></text></g>
<g id="n-su5"><use href="#sb" x="1648" y="830"/></g>
<g id="n-su6"><use href="#sp" x="1613" y="869"/></g>
<g id="n-su7"><use href="#sp" x="1650" y="869"/></g>
<g id="n-t1"><use href="#sp" x="1739" y="850"/></g>
<g id="n-t2"><use href="#sp" x="1737" y="886"/><text class="s" x="1754" y="897.8" font-size="3.2"><tspan x="1754">Terminology:</tspan><tspan x="1754" dy="4.2">Understands</tspan><tspan x="1754" dy="4.2">them well</tspan><tspan x="1754" dy="4.2">[B_P2_27]</tspan></text></g>
<g id="n-t3"><use href="#sb" x="1775" y="884"/></g>
<g id="n-t4"><use href="#st" x="1814" y="889"/><text class="s" x="1831" y="899.9" font-size="3.8"><tspan x="1831">Familiar with</tspan><tspan x="1831" dy="4.9">all</tspan><tspan x="1831" dy="4.9">terminology</tspan><tspan x="1831" dy="4.9">[B_P03_21]</tspan></text></g>
<g id="n-t5"><use href="#st" x="1759" y="926"/><text class="s" x="1776" y="936.9" font-size="3.8"><tspan x="1776">Feature</tspan><tspan x="1776" dy="4.9">extraction</tspan><tspan x="1776" dy="4.9">and</tspan><tspan x="1776" dy="4.9">modelling</tspan></text></g>
<g id="n-t6"><use href="#st" x="1797" y="926"/><text class="s" x="1814" y="939.4" font-size="3.8"><tspan x="1814">Data terrain</tspan><tspan x="1814" dy="4.9">model and</tspan><tspan x="1814" dy="4.9">resolution</tspan></text></g>
<g id="n-t7"><use href="#st" x="1834" y="926"/><text class="s" x="1851" y="939.4" font-size="3.8"><tspan x="1851">Relative and</tspan><tspan x="1851" dy="4.9">absolute</tspan><tspan x="1851" dy="4.9">accuracy</tspan></text></g>
<g id="n-t8"><use href="#st" x="1871" y="926"/><text class="s" x="1888" y="940.7" font-size="7"><tspan x="1888">Point</tspan><tspan x="1888" dy="9.5">density</tspan></text></g>
<g id="n-t9"><use href="#st" x="1760" y="966"/><text class="s" x="1777" y="976.9" font-size="3.8"><tspan x="1777">I've never</tspan><tspan x="1777" dy="4.9">heard the</tspan><tspan x="1777" dy="4.9">term data</tspan><tspan x="1777" dy="4.9">terrain</tspan></text></g>
<g id="n-t10"><use href="#st" x="1799" y="966"/><text class="s" x="1816" y="977.5" font-size="2.5"><tspan x="1816">Digital terrain model</tspan><tspan x="1816" dy="3.2">is a digital elevation</tspan><tspan x="1816" dy="3.2">model with the</tspan><tspan x="1816" dy="3.2">enforcement of</tspan><tspan x="1816" dy="3.2">breaklines</tspan></text></g>
</g>

<g id="wrap-up">
<g id="n-wrap"><use href="#sk" x="2209" y="655"/><text class="wt" x="2226" y="669.3" font-size="10" font-weight="bold"><tspan x="2226">Wrap</tspan><tspan x="2226" dy="12.5">Up</tspan></text></g>
<g id="n-w1"><use href="#sb" x="2254" y="655"/><text class="s" x="2271" y="666.8" font-size="3.2"><tspan x="2271">Very</tspan><tspan x="2271" dy="4.2">interested in</tspan><tspan x="2271" dy="4.2">alpha/beta</tspan><tspan x="2271" dy="4.2">testing</tspan></text></g>
<g id="n-w2"><use href="#st" x="2254" y="695"/><text class="s" x="2271" y="708.9" font-size="3.2"><tspan x="2271">Interested in</tspan><tspan x="2271" dy="4.2">testing beta</tspan><tspan x="2271" dy="4.2">product</tspan></text></g>
</g>

<g id="connectors"></g>
</svg>
